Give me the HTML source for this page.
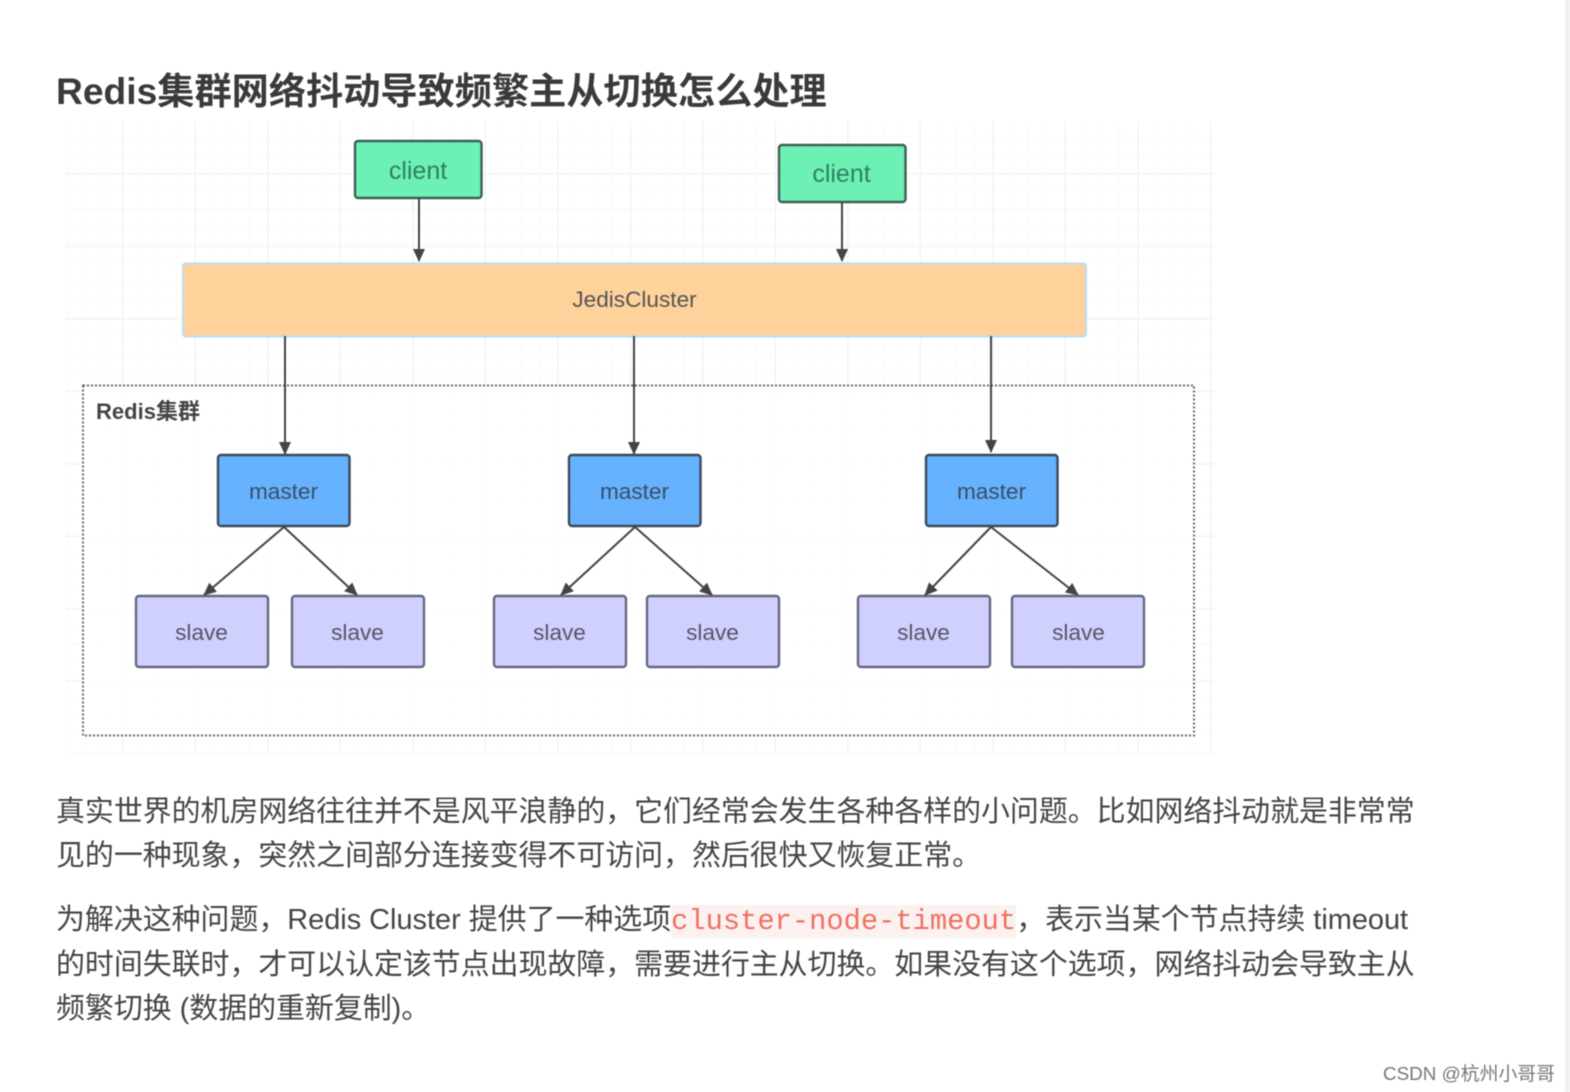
<!DOCTYPE html>
<html><head><meta charset="utf-8">
<style>
html,body{margin:0;padding:0;background:#fff;}
body{width:1570px;height:1092px;overflow:hidden;position:relative;font-family:"Liberation Sans","Noto Sans CJK SC",sans-serif;}
#w{position:absolute;left:0;top:0;width:1570px;height:1092px;filter:blur(.6px);}
.t{position:absolute;white-space:nowrap;color:#444;font-size:28.92px;line-height:44px;left:56px;}
code{font-family:"Liberation Mono",monospace;color:#f0705f;background:#fbf1f0;font-size:28.75px;}
svg{position:absolute;left:0;top:0;}
svg text{font-family:"Liberation Sans","Noto Sans CJK SC",sans-serif;font-size:22.6px;fill:#444;text-anchor:middle;}
</style></head><body><div id="w">
<div style="position:absolute;left:1565px;top:0;width:5px;height:1092px;background:#f0f0f0"></div>
<div class="t" style="top:69px;font-size:37.2px;font-weight:bold;color:#3a3a3a;">Redis集群网络抖动导致频繁主从切换怎么处理</div>
<svg width="1570" height="1092" viewBox="0 0 1570 1092">
<defs>
<pattern id="g" x="50" y="100.5" width="18.125" height="18.125" patternUnits="userSpaceOnUse"><path d="M18.125 0V18.125H0" fill="none" stroke="#f5f5f5" stroke-width="1"/></pattern>
<pattern id="G" x="50" y="101" width="72.5" height="72.5" patternUnits="userSpaceOnUse"><path d="M.5 0V72.5M0 .5H72.5" fill="none" stroke="#f1f1f1" stroke-width="1"/></pattern>
<marker id="a" markerWidth="14" markerHeight="14" refX="12" refY="6" orient="auto" markerUnits="userSpaceOnUse"><path d="M0 0L13 6L0 12Z" fill="#444"/></marker>
</defs>
<rect x="65" y="121" width="1150" height="632" fill="url(#g)"/>
<rect x="65" y="121" width="1150" height="632" fill="url(#G)"/>
<g transform="translate(2,0)">
<rect x="81" y="385.5" width="1111" height="350" fill="#fff" fill-opacity=".92" stroke="#666" stroke-width="2" stroke-dasharray="2 2"/>
<g stroke="#3f5f55" stroke-width="2.4">
<rect x="353" y="141" width="126.5" height="57" rx="3" fill="#6cf0b4"/>
<rect x="777" y="145" width="126.5" height="57" rx="3" fill="#6cf0b4"/>
</g>
<rect x="181" y="263.5" width="903" height="73" rx="3" fill="#ffd29c" stroke="#bcdcf2" stroke-width="2"/>
<g fill="#66b2ff" stroke="#3a4a5c" stroke-width="2.4">
<rect x="216" y="455" width="131.5" height="71" rx="3"/>
<rect x="567" y="455" width="131.5" height="71" rx="3"/>
<rect x="924" y="455" width="131.5" height="71" rx="3"/>
</g>
<g fill="#d0d0ff" stroke="#666680" stroke-width="2.4">
<rect x="134" y="596" width="132" height="71" rx="3"/>
<rect x="290" y="596" width="132" height="71" rx="3"/>
<rect x="492" y="596" width="132" height="71" rx="3"/>
<rect x="645" y="596" width="132" height="71" rx="3"/>
<rect x="856" y="596" width="132" height="71" rx="3"/>
<rect x="1010" y="596" width="132" height="71" rx="3"/>
</g>
<g stroke="#444" stroke-width="2" fill="none">
<path d="M417 198V261" marker-end="url(#a)"/>
<path d="M840 202V261" marker-end="url(#a)"/>
<path d="M283 336V454" marker-end="url(#a)"/>
<path d="M632 336V454" marker-end="url(#a)"/>
<path d="M989 336V452" marker-end="url(#a)"/>
<path d="M282 527L202 595" marker-end="url(#a)"/>
<path d="M282 527L355 595" marker-end="url(#a)"/>
<path d="M633 527L559 595" marker-end="url(#a)"/>
<path d="M633 527L710 595" marker-end="url(#a)"/>
<path d="M989 527L923 595" marker-end="url(#a)"/>
<path d="M989 527L1076 595" marker-end="url(#a)"/>
</g>
</g>
<text x="148" y="419" style="font-weight:bold;font-size:22px">Redis集群</text>
<text x="418" y="179" style="font-size:25px;fill:#2f7f62">client</text>
<text x="841.5" y="182" style="font-size:25px;fill:#2f7f62">client</text>
<text x="634.5" y="307" style="font-size:22.6px;fill:#555">JedisCluster</text>
<text x="283.5" y="499" style="fill:#3a4f66">master</text>
<text x="634.5" y="499" style="fill:#3a4f66">master</text>
<text x="991.5" y="499" style="fill:#3a4f66">master</text>
<text x="201.5" y="640" style="fill:#555566">slave</text>
<text x="357.5" y="640" style="fill:#555566">slave</text>
<text x="559.5" y="640" style="fill:#555566">slave</text>
<text x="712.5" y="640" style="fill:#555566">slave</text>
<text x="923.5" y="640" style="fill:#555566">slave</text>
<text x="1078.5" y="640" style="fill:#555566">slave</text>
</svg>
<div class="t" style="top:790px;">真实世界的机房网络往往并不是风平浪静的，它们经常会发生各种各样的小问题。比如网络抖动就是非常常</div>
<div class="t" style="top:834px;">见的一种现象，突然之间部分连接变得不可访问，然后很快又恢复正常。</div>
<div class="t" style="top:898px;">为解决这种问题，Redis Cluster 提供了一种选项<code>cluster-node-timeout</code>，表示当某个节点持续 timeout</div>
<div class="t" style="top:943px;">的时间失联时，才可以认定该节点出现故障，需要进行主从切换。如果没有这个选项，网络抖动会导致主从</div>
<div class="t" style="top:987px;">频繁切换 (数据的重新复制)。</div>
<div style="position:absolute;left:1383px;top:1062px;font-size:18.85px;line-height:24px;color:#777;white-space:nowrap;">CSDN @杭州小哥哥</div>
</div></body></html>
